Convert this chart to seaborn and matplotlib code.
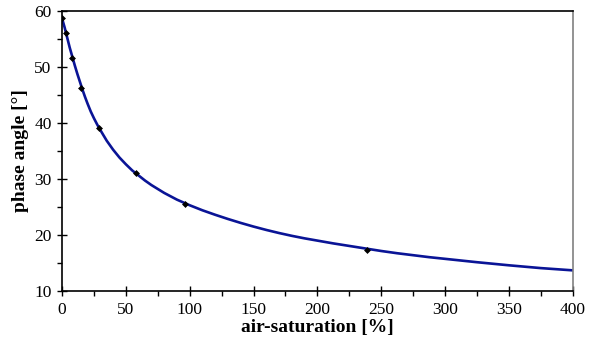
import matplotlib
matplotlib.use("Agg")
import matplotlib.pyplot as plt
from matplotlib.ticker import MultipleLocator
import numpy as np
import pandas as pd
import seaborn as sns

# calibration curve
curve_x = [0, 1, 2, 3, 4, 5, 6, 7, 8, 9, 10, 12, 14, 16, 18, 20, 22.5, 25, 27.5, 30,
           35, 40, 45, 50, 55, 60, 65, 70, 75, 80, 90, 100, 110, 120, 130, 140, 150,
           160, 170, 180, 190, 200, 212.5, 225, 237.5, 250, 262.5, 275, 287.5, 300,
           325, 350, 375, 400]
curve_y = [58.6, 57.8, 57.0, 56.1, 55.2, 54.3, 53.4, 52.6, 51.8, 51.0, 50.2, 48.7, 47.3,
           45.9, 44.6, 43.4, 42.0, 40.8, 39.7, 38.7, 36.8, 35.2, 33.8, 32.6, 31.5, 30.6,
           29.7, 28.9, 28.2, 27.5, 26.3, 25.3, 24.4, 23.6, 22.85, 22.15, 21.5, 20.9,
           20.35, 19.85, 19.4, 19.0, 18.5, 18.05, 17.6, 17.15, 16.75, 16.4, 16.05, 15.75,
           15.15, 14.6, 14.1, 13.7]

# measured points
meas_x = [0.3, 2.9, 7.9, 14.7, 29.2, 58, 96, 239]
meas_y = [58.6, 56.0, 51.5, 46.25, 39.1, 31.1, 25.5, 17.4]


def main():
    sns.set_style("white")
    plt.rcParams["font.family"] = ["Liberation Serif", "DejaVu Serif"]
    plt.rcParams["text.color"] = "black"
    plt.rcParams["axes.labelcolor"] = "black"
    plt.rcParams["xtick.color"] = "black"
    plt.rcParams["ytick.color"] = "black"

    df_curve = pd.DataFrame({"air": curve_x, "phase": curve_y})
    df_meas = pd.DataFrame({"air": meas_x, "phase": meas_y})

    fig = plt.figure(figsize=(5.91, 3.52), dpi=100)
    ax = fig.add_axes([0.105, 0.173, 0.864, 0.797])

    sns.lineplot(data=df_curve, x="air", y="phase", color="#0a1496", linewidth=1.9, ax=ax)
    sns.scatterplot(data=df_meas, x="air", y="phase", color="black", marker="D",
                    s=9, edgecolor="black", linewidth=0.5, zorder=3, ax=ax)

    ax.set_xlim(0, 400)
    ax.set_ylim(10, 60)
    ax.xaxis.set_major_locator(MultipleLocator(50))
    ax.xaxis.set_minor_locator(MultipleLocator(25))
    ax.yaxis.set_major_locator(MultipleLocator(10))
    ax.yaxis.set_minor_locator(MultipleLocator(5))
    ax.tick_params(which="major", direction="inout", length=7, width=1.0,
                   labelsize=12.5, color="black", labelcolor="black", pad=4)
    ax.tick_params(which="minor", direction="out", length=3.5, width=1.0, color="black")
    ax.tick_params(axis="x", which="both", bottom=True)
    ax.tick_params(axis="y", which="both", left=True)

    for side in ["left", "bottom", "top"]:
        ax.spines[side].set_color("black")
        ax.spines[side].set_linewidth(1.2)
    ax.spines["right"].set_color("#808080")
    ax.spines["right"].set_linewidth(1.2)

    ax.set_xlabel("air-saturation [%]", fontsize=14, fontweight="bold", labelpad=1,
                  color="black")
    ax.set_ylabel("phase angle [°]", fontsize=14, fontweight="bold", labelpad=4,
                  color="black")
    ax.grid(False)

    fig.savefig("out.png", dpi=100)


if __name__ == "__main__":
    main()
